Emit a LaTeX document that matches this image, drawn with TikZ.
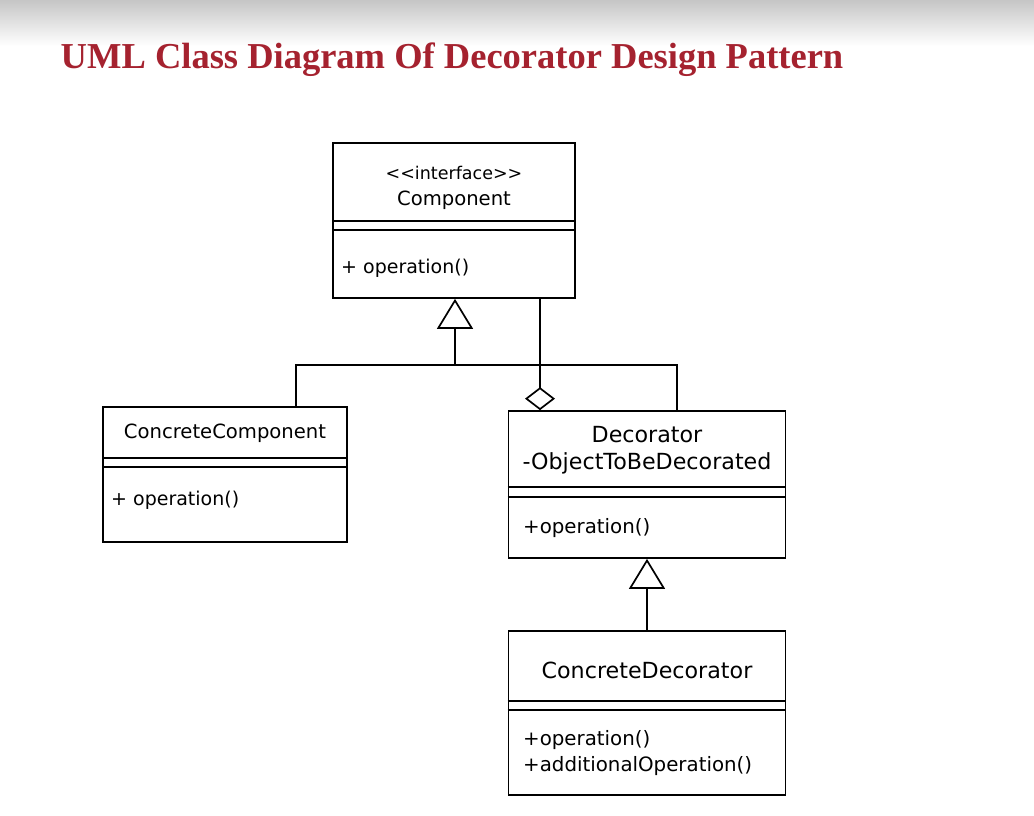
\documentclass[tikz,border=0pt]{standalone}
\usepackage{fontspec}
\usepackage{tikz}
\usetikzlibrary{arrows.meta,positioning}
\newfontfamily\umlfont{DejaVu Sans}
\newfontfamily\headfont{Liberation Serif}
\definecolor{headred}{HTML}{A5222F}
\tikzset{
  umlclass/.style = {draw, shape = rectangle, line width = 1.7pt, inner sep = 0pt},
  compart/.style = {line width = 1.7pt},
  classname/.style = {font = \umlfont\fontsize{19.6}{23}\selectfont, inner sep = 0pt},
  bigname/.style = {font = \umlfont\fontsize{22.2}{26}\selectfont, inner sep = 0pt},
  member/.style = {font = \umlfont\fontsize{19}{22}\selectfont, inner sep = 0pt, anchor = west},
  bigmember/.style = {font = \umlfont\fontsize{19.8}{23}\selectfont, inner sep = 0pt, anchor = west},
  link/.style = {line width = 1.7pt},
  inherit/.style = {link, -{Triangle[open, length = 30pt, width = 36pt, line width = 1.7pt]}},
  aggregate/.style = {link, -{Diamond[open, length = 23pt, width = 30pt, line width = 1.7pt]}}
}

\begin{document}
\begin{tikzpicture}[x = 1pt, y = -1pt]
\useasboundingbox (0,0) rectangle (1034,815);
\shade[top color = gray!45, bottom color = white] (0,0) rectangle (1034,46);
\node[font = \headfont\bfseries\fontsize{36.5}{40}\selectfont, text = headred, inner sep = 0pt] (title) at (452,60) {UML Class Diagram Of Decorator Design Pattern};

% class boxes
\node[umlclass, minimum width = 242pt, minimum height = 155pt] (comp) at (454,220.5) {};
\node[umlclass, minimum width = 244pt, minimum height = 135pt] (ccomp) at (225,474.5) {};
\node[umlclass, minimum width = 277pt, minimum height = 147pt] (deco) at (647,484.5) {};
\node[umlclass, minimum width = 277pt, minimum height = 164pt] (cdeco) at (647,713) {};

% compartments
\draw[compart] (comp.west |- 0,221) -- (comp.east |- 0,221);
\draw[compart] (comp.west |- 0,230) -- (comp.east |- 0,230);
\draw[compart] (ccomp.west |- 0,458) -- (ccomp.east |- 0,458);
\draw[compart] (ccomp.west |- 0,467) -- (ccomp.east |- 0,467);
\draw[compart] (deco.west |- 0,487) -- (deco.east |- 0,487);
\draw[compart] (deco.west |- 0,497) -- (deco.east |- 0,497);
\draw[compart] (cdeco.west |- 0,701) -- (cdeco.east |- 0,701);
\draw[compart] (cdeco.west |- 0,710) -- (cdeco.east |- 0,710);

% texts
\node[classname, font = \umlfont\fontsize{17.5}{20}\selectfont] (stereo) at (454,173) {<<interface>>};
\node[classname] (compname) at (454,200) {Component};
\node[member] (compop) at (341,268) {+ operation()};
\node[classname] (ccompname) at (225,433) {ConcreteComponent};
\node[member] (ccompop) at (111,500) {+ operation()};
\node[bigname] (deconame) at (647,435) {Decorator};
\node[bigname] (decofield) at (647,463) {-ObjectToBeDecorated};
\node[bigmember] (decoop) at (523,528) {+operation()};
\node[bigname] (cdeconame) at (647,670) {ConcreteDecorator};
\node[bigmember] (cdecoop) at (523,740) {+operation()};
\node[bigmember] (cdecoadd) at (523,766) {+additionalOperation()};

% connectors
\coordinate (gen) at (455,365);
\coordinate (hl) at (296,365);
\coordinate (hr) at (677,365);
\coordinate (agg) at (540,365);
\draw[link] (ccomp.north -| hl) -- (hl) -- (hr) -- (deco.north -| hr);
\draw[inherit] (gen) -- (comp.south -| gen);
\draw[aggregate] (comp.south -| agg) -- (deco.north -| agg);
\draw[inherit] (cdeco.north) -- (deco.south);
\end{tikzpicture}
\end{document}
